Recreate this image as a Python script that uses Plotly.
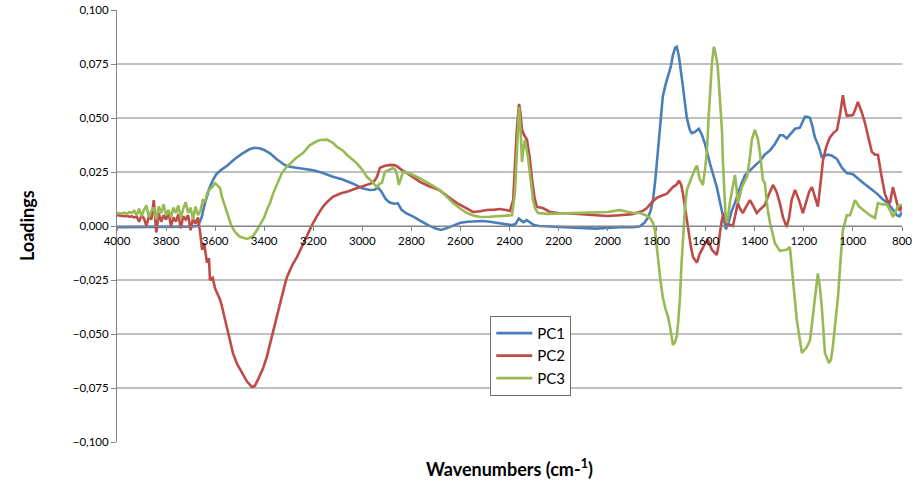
import plotly.graph_objects as go

# ---------------- data (wavenumber, loading) ----------------
noise_wn = [4000, 3990, 3980, 3970, 3960, 3950, 3940, 3930, 3920, 3910,
            3900, 3890, 3880, 3870, 3860, 3850, 3840, 3830, 3820, 3810,
            3800, 3790, 3780, 3770, 3760, 3750, 3740, 3730, 3720, 3710,
            3700, 3690, 3680, 3670, 3660]
pc2_noise = [0.0050, 0.0048, 0.0046, 0.0045, 0.0047, 0.0043, 0.0045, 0.0040, 0.0044, 0.0020,
             0.0050, 0.0035, 0.0000, 0.0045, 0.0030, 0.0120, -0.0030, 0.0060, 0.0020, 0.0050,
             0.0030, 0.0065, 0.0000, 0.0040, 0.0020, 0.0055, -0.0010, 0.0045, 0.0030, 0.0050,
             -0.0020, 0.0035, 0.0010, 0.0040, -0.0040]
pc3_noise = [0.0060, 0.0060, 0.0058, 0.0062, 0.0055, 0.0065, 0.0060, 0.0070, 0.0050, 0.0080,
             0.0045, 0.0075, 0.0095, 0.0040, 0.0070, 0.0085, 0.0030, 0.0090, 0.0060, 0.0100,
             0.0050, 0.0075, 0.0040, 0.0085, 0.0060, 0.0095, 0.0035, 0.0080, 0.0110, 0.0060,
             0.0085, 0.0030, 0.0090, 0.0050, 0.0070]

pc1_points = [
    (4000, -0.0005), (3950, -0.0005), (3900, -0.0003), (3850, -0.0005), (3800, -0.0002),
    (3750, -0.0004), (3700, -0.0003), (3670, 0.0), (3655, 0.004), (3645, 0.009),
    (3635, 0.013), (3625, 0.017), (3610, 0.021), (3595, 0.024), (3575, 0.026),
    (3550, 0.028), (3520, 0.031), (3490, 0.0335), (3460, 0.0355), (3440, 0.0362),
    (3420, 0.036), (3400, 0.0352), (3375, 0.0335), (3350, 0.031), (3320, 0.0285),
    (3300, 0.0275), (3270, 0.027), (3240, 0.0265), (3200, 0.0258), (3160, 0.0245),
    (3120, 0.0228), (3080, 0.0215), (3040, 0.0197), (3000, 0.0175), (2970, 0.0167),
    (2950, 0.0168), (2935, 0.0178), (2920, 0.0155), (2905, 0.0125), (2890, 0.011),
    (2870, 0.0103), (2855, 0.0105), (2840, 0.0075), (2820, 0.0058), (2790, 0.0042),
    (2760, 0.0022), (2730, 0.0003), (2700, -0.0012), (2680, -0.0018), (2660, -0.0012),
    (2640, -0.0003), (2620, 0.0008), (2600, 0.0015), (2570, 0.002), (2540, 0.0023),
    (2510, 0.0023), (2480, 0.002), (2450, 0.0014), (2420, 0.0008), (2390, 0.0004),
    (2375, 0.001), (2362, 0.0035), (2352, 0.0025), (2342, 0.0018), (2330, 0.0027),
    (2315, 0.0015), (2300, 0.0004), (2280, 0.0), (2250, -0.0002), (2200, -0.0003),
    (2150, -0.0006), (2100, -0.001), (2050, -0.0012), (2000, -0.0009), (1950, -0.0005),
    (1900, -0.0006), (1870, -0.0002), (1850, 0.0015), (1835, 0.004), (1825, 0.007),
    (1815, 0.012), (1805, 0.022), (1795, 0.035), (1787, 0.047), (1775, 0.060),
    (1765, 0.065), (1754, 0.069), (1742, 0.074), (1734, 0.079), (1725, 0.0825),
    (1718, 0.083), (1710, 0.079), (1697, 0.068), (1687, 0.058), (1677, 0.050),
    (1665, 0.0445), (1657, 0.043), (1645, 0.0435), (1628, 0.045), (1615, 0.042),
    (1603, 0.038), (1583, 0.029), (1570, 0.024), (1555, 0.018), (1540, 0.010),
    (1530, 0.004), (1518, -0.0015), (1506, 0.002), (1494, 0.007), (1480, 0.011),
    (1469, 0.015), (1455, 0.0195), (1440, 0.0235), (1425, 0.025), (1408, 0.027),
    (1390, 0.029), (1379, 0.030), (1360, 0.033), (1338, 0.035), (1318, 0.038),
    (1298, 0.042), (1285, 0.042), (1270, 0.0405), (1255, 0.0425), (1236, 0.045),
    (1216, 0.0455), (1205, 0.048), (1196, 0.0505), (1185, 0.0505), (1175, 0.050),
    (1165, 0.046), (1155, 0.041), (1140, 0.037), (1127, 0.032), (1115, 0.0325),
    (1102, 0.033), (1085, 0.0325), (1065, 0.031), (1045, 0.027), (1025, 0.0245),
    (1000, 0.024), (980, 0.022), (959, 0.020), (930, 0.0175), (902, 0.015),
    (880, 0.0125), (857, 0.0105), (840, 0.008), (821, 0.005), (810, 0.0045),
    (800, 0.0065),
]

pc2_points = [
    (3653, -0.011), (3645, -0.008), (3633, -0.017), (3625, -0.015), (3621, -0.025),
    (3610, -0.024), (3600, -0.029), (3592, -0.031), (3580, -0.034), (3572, -0.0373),
    (3562, -0.042), (3552, -0.048), (3540, -0.053), (3527, -0.059), (3510, -0.064),
    (3491, -0.068), (3470, -0.072), (3450, -0.0745), (3438, -0.074), (3425, -0.071),
    (3405, -0.066), (3389, -0.0605), (3375, -0.054), (3364, -0.048), (3350, -0.042),
    (3336, -0.0357), (3320, -0.029), (3307, -0.0236), (3285, -0.018), (3266, -0.0143),
    (3240, -0.008), (3213, -0.001), (3201, 0.0014), (3180, 0.0055), (3160, 0.009),
    (3140, 0.0115), (3120, 0.0135), (3090, 0.015), (3063, 0.0158), (3035, 0.017),
    (3010, 0.018), (2980, 0.019), (2961, 0.0198), (2950, 0.021), (2940, 0.0228),
    (2928, 0.027), (2910, 0.0278), (2887, 0.0283), (2870, 0.0282), (2859, 0.0277),
    (2840, 0.026), (2818, 0.0245), (2790, 0.0225), (2765, 0.0204), (2730, 0.0185),
    (2700, 0.0172), (2684, 0.0165), (2650, 0.0135), (2614, 0.0106), (2580, 0.0085),
    (2549, 0.0065), (2520, 0.0068), (2492, 0.0074), (2460, 0.0076), (2439, 0.0079),
    (2415, 0.0074), (2398, 0.007), (2385, 0.012), (2378, 0.027), (2370, 0.045),
    (2361, 0.0565), (2355, 0.052), (2349, 0.0445), (2340, 0.042), (2329, 0.040),
    (2318, 0.032), (2308, 0.0213), (2298, 0.013), (2288, 0.0088), (2264, 0.0083),
    (2235, 0.0065), (2200, 0.006), (2150, 0.0058), (2100, 0.0055), (2050, 0.005),
    (2003, 0.0046), (1950, 0.005), (1900, 0.0055), (1856, 0.007), (1840, 0.0083),
    (1820, 0.011), (1800, 0.013), (1780, 0.014), (1758, 0.015), (1734, 0.018),
    (1720, 0.019), (1709, 0.021), (1700, 0.019), (1693, 0.015), (1683, 0.007),
    (1673, -0.0005), (1660, -0.010), (1652, -0.0143), (1636, -0.017), (1625, -0.013),
    (1612, -0.0097), (1600, -0.0075), (1591, -0.0065), (1583, -0.009), (1575, -0.011),
    (1555, -0.0134), (1548, -0.009), (1542, -0.003), (1534, 0.003), (1526, 0.006),
    (1518, 0.002), (1510, 0.0005), (1500, 0.0005), (1489, 0.0), (1480, 0.005),
    (1469, 0.0106), (1460, 0.008), (1449, 0.006), (1435, 0.009), (1420, 0.012),
    (1405, 0.009), (1392, 0.006), (1375, 0.008), (1359, 0.0097), (1345, 0.014),
    (1326, 0.019), (1312, 0.016), (1298, 0.0106), (1285, 0.004), (1270, -0.0005),
    (1260, 0.004), (1250, 0.012), (1236, 0.0167), (1220, 0.012), (1204, 0.006),
    (1190, 0.011), (1178, 0.016), (1167, 0.018), (1155, 0.013), (1143, 0.009),
    (1130, 0.022), (1122, 0.0305), (1108, 0.037), (1094, 0.041), (1080, 0.043),
    (1065, 0.0445), (1052, 0.052), (1041, 0.0606), (1033, 0.055), (1025, 0.051),
    (1010, 0.0512), (1000, 0.0514), (990, 0.054), (980, 0.0574), (965, 0.053),
    (951, 0.0477), (935, 0.040), (923, 0.0343), (910, 0.033), (898, 0.033),
    (885, 0.024), (870, 0.015), (860, 0.012), (849, 0.0106), (837, 0.018),
    (827, 0.014), (817, 0.009), (808, 0.007), (800, 0.0097),
]

pc3_points = [
    (3650, 0.012), (3640, 0.0115), (3633, 0.015), (3625, 0.0165), (3613, 0.018),
    (3600, 0.0198), (3588, 0.0185), (3580, 0.0175), (3572, 0.0134), (3560, 0.009),
    (3548, 0.0042), (3535, 0.0005), (3519, -0.0028), (3499, -0.005), (3470, -0.006),
    (3446, -0.0048), (3430, -0.002), (3417, 0.0005), (3400, 0.004), (3389, 0.0074),
    (3375, 0.011), (3364, 0.015), (3345, 0.020), (3328, 0.0245), (3310, 0.0272),
    (3295, 0.029), (3270, 0.0315), (3242, 0.0338), (3213, 0.0375), (3190, 0.039),
    (3173, 0.0398), (3144, 0.040), (3120, 0.0385), (3103, 0.0366), (3080, 0.035),
    (3063, 0.033), (3040, 0.031), (3022, 0.029), (3000, 0.026), (2981, 0.0227),
    (2960, 0.0205), (2940, 0.018), (2930, 0.0195), (2920, 0.020), (2908, 0.025),
    (2890, 0.026), (2875, 0.0268), (2865, 0.026), (2859, 0.024), (2851, 0.019),
    (2843, 0.022), (2834, 0.025), (2815, 0.0245), (2793, 0.0236), (2765, 0.022),
    (2737, 0.0204), (2710, 0.0185), (2684, 0.0167), (2655, 0.0135), (2630, 0.0106),
    (2600, 0.008), (2573, 0.006), (2545, 0.0048), (2520, 0.0042), (2480, 0.0043),
    (2439, 0.0046), (2400, 0.0046), (2390, 0.005), (2378, 0.015), (2370, 0.032),
    (2361, 0.055), (2355, 0.045), (2349, 0.0296), (2343, 0.036), (2337, 0.040),
    (2325, 0.032), (2314, 0.022), (2304, 0.012), (2295, 0.008), (2284, 0.006),
    (2247, 0.0056), (2200, 0.0058), (2150, 0.0058), (2100, 0.006), (2050, 0.0062),
    (2000, 0.0065), (1970, 0.007), (1950, 0.0074), (1920, 0.0066), (1890, 0.006),
    (1868, 0.006), (1845, 0.005), (1827, 0.0037), (1815, 0.0015), (1807, -0.002),
    (1800, -0.008), (1795, -0.0143), (1785, -0.025), (1775, -0.033), (1765, -0.038),
    (1754, -0.042), (1745, -0.047), (1734, -0.055), (1726, -0.054), (1718, -0.051),
    (1712, -0.044), (1705, -0.033), (1699, -0.018), (1693, -0.005), (1685, 0.008),
    (1677, 0.0167), (1667, 0.020), (1657, 0.0227), (1645, 0.026), (1636, 0.028),
    (1625, 0.022), (1612, 0.019), (1603, 0.026), (1595, 0.035), (1589, 0.049),
    (1583, 0.063), (1575, 0.075), (1567, 0.083), (1560, 0.080), (1551, 0.0736),
    (1542, 0.060), (1534, 0.0445), (1530, 0.030), (1526, 0.0167), (1520, 0.006),
    (1514, 0.0014), (1508, 0.005), (1502, 0.0106), (1490, 0.019), (1481, 0.0236),
    (1475, 0.018), (1469, 0.0106), (1461, 0.014), (1453, 0.018), (1440, 0.021),
    (1432, 0.0227), (1422, 0.030), (1412, 0.040), (1400, 0.0445), (1387, 0.040),
    (1379, 0.0338), (1367, 0.0213), (1359, 0.0198), (1348, 0.008), (1338, 0.0014),
    (1328, -0.004), (1318, -0.008), (1298, -0.0115), (1270, -0.011), (1257, -0.0097),
    (1245, -0.025), (1229, -0.0435), (1208, -0.0588), (1195, -0.057), (1188, -0.056),
    (1175, -0.0528), (1165, -0.043), (1155, -0.033), (1143, -0.022), (1135, -0.028),
    (1127, -0.0375), (1114, -0.0588), (1098, -0.0634), (1090, -0.062), (1082, -0.056),
    (1072, -0.045), (1061, -0.033), (1050, -0.015), (1041, -0.002), (1025, 0.005),
    (1012, 0.005), (1000, 0.009), (992, 0.012), (975, 0.009), (959, 0.0074),
    (945, 0.006), (931, 0.005), (910, 0.0037), (898, 0.0106), (880, 0.010),
    (862, 0.010), (849, 0.0074), (837, 0.0042), (825, 0.007), (817, 0.009),
    (800, 0.010),
]

series_names = ["PC1", "PC2", "PC3"]
series_colors = ["#4A7EBB", "#BE4B48", "#98B954"]
y_tick_values = [-0.1, -0.075, -0.05, -0.025, 0.0, 0.025, 0.05, 0.075, 0.1]

# ---------------- assemble ----------------
pc1_x = [p[0] for p in pc1_points]
pc1_y = [p[1] for p in pc1_points]
pc2_x = noise_wn + [p[0] for p in pc2_points]
pc2_y = pc2_noise + [p[1] for p in pc2_points]
pc3_x = noise_wn + [p[0] for p in pc3_points]
pc3_y = pc3_noise + [p[1] for p in pc3_points]

FONT = "Lato, Carlito, Calibri, 'Liberation Sans', sans-serif"

fig = go.Figure()
for name, xs, ys, col in zip(series_names, [pc1_x, pc2_x, pc3_x],
                             [pc1_y, pc2_y, pc3_y], series_colors):
    fig.add_trace(go.Scatter(x=xs, y=ys, mode="lines", name=name,
                             line=dict(color=col, width=2.6)))

fig.update_layout(
    width=917, height=487,
    margin=dict(l=117, r=15, t=10, b=45, autoexpand=False),
    paper_bgcolor="white", plot_bgcolor="white",
    separators=",.",
    font=dict(family=FONT, color="#000000", size=11),
    showlegend=True,
    legend=dict(x=0.4755, y=0.292, xanchor="left", yanchor="top",
                bgcolor="white", bordercolor="#6e6e6e", borderwidth=1,
                font=dict(size=15, family=FONT), tracegroupgap=0,
                itemwidth=36),
    xaxis=dict(range=[4000, 800], tick0=800, dtick=200, anchor="free",
               position=0.5, showline=True, linecolor="#868686", linewidth=1,
               ticks="outside", ticklen=4, tickcolor="#868686",
               showgrid=False, zeroline=False, automargin=False,
               tickfont=dict(size=11.5, family=FONT)),
    yaxis=dict(range=[-0.1, 0.1], tickvals=y_tick_values, tickformat=".3f",
               showline=True, linecolor="#868686", linewidth=1,
               ticks="outside", ticklen=5, tickcolor="#868686",
               showgrid=True, gridcolor="#C0C0C0", gridwidth=1.5,
               zeroline=False, automargin=False,
               tickfont=dict(size=11.5, family=FONT)),
    annotations=[
        dict(text="<b>Loadings</b>", xref="paper", yref="paper", x=-0.1146, y=0.5,
             textangle=-90, showarrow=False, xanchor="center", yanchor="middle",
             font=dict(size=18, family=FONT, color="#000000")),
        dict(text="<b>Wavenumbers (cm-<sup>1</sup>)</b>", xref="paper", yref="paper",
             x=0.5, y=-0.06, showarrow=False, xanchor="center", yanchor="middle",
             font=dict(size=18, family=FONT, color="#000000")),
    ],
)

# remove the browser's default 8px body margin so the figure fills the window
fig.write_html("out.html",
               config={"displayModeBar": False},
               post_script="document.body.style.margin='0';"
                           "document.body.style.overflow='hidden';")
